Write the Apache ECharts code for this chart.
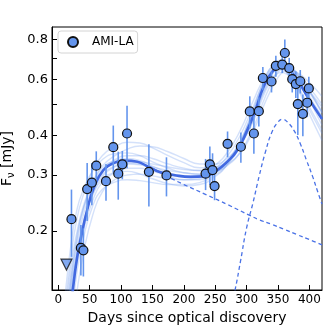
<!DOCTYPE html>
<html>
<head>
<meta charset="utf-8">
<script src="https://cdn.jsdelivr.net/npm/echarts@6/dist/echarts.min.js"></script>
<style>
  html, body { margin: 0; padding: 0; background: #fff; }
  #chart { width: 332px; height: 332px; }
</style>
</head>
<body>
<div id="chart"></div>
<script>
// AMI-LA detections: day, flux (mJy), 1-sigma error
const ptDay = [21, 36, 40, 46, 53.5, 60.5, 76, 87.6, 95.5, 102, 109.5, 144.3, 172.3, 234.6, 241.4, 245.7, 248.9, 269.6, 290.8, 305, 311.5, 319.4, 325.8, 339.6, 346.5, 356.7, 360.8, 367.8, 372.6, 378.3, 381.5, 385.4, 389.5, 396.5, 399]
const ptFlux = [0.218, 0.177, 0.174, 0.271, 0.284, 0.321, 0.287, 0.367, 0.303, 0.324, 0.405, 0.307, 0.299, 0.303, 0.324, 0.311, 0.277, 0.376, 0.368, 0.475, 0.405, 0.476, 0.605, 0.59, 0.661, 0.667, 0.725, 0.65, 0.6, 0.579, 0.501, 0.591, 0.467, 0.506, 0.561]
const ptErr = [0.052, 0.032, 0.03, 0.056, 0.043, 0.035, 0.038, 0.062, 0.052, 0.033, 0.09, 0.068, 0.042, 0.034, 0.045, 0.04, 0.027, 0.035, 0.04, 0.055, 0.055, 0.05, 0.05, 0.045, 0.05, 0.04, 0.075, 0.05, 0.055, 0.055, 0.1, 0.05, 0.07, 0.05, 0.05]

// upper limit
const ulDay = [13]
const ulFlux = [0.157]

// best model (total)
const mainDay = [20, 25, 30, 36, 46, 57, 72, 88, 107, 126, 144, 163, 184, 211, 232, 253, 269, 285, 301, 314, 327, 341, 354, 367, 381, 397, 420]
const mainFlux = [0.115, 0.14, 0.165, 0.19, 0.233, 0.275, 0.311, 0.327, 0.333, 0.33, 0.318, 0.306, 0.3, 0.296, 0.297, 0.311, 0.33, 0.359, 0.415, 0.48, 0.568, 0.633, 0.656, 0.641, 0.596, 0.528, 0.45]

// model components (dashed)
const comp1Day = [130, 150, 172, 200, 236, 270, 305, 320, 340, 360, 380, 400, 420]
const comp1Flux = [0.328, 0.315, 0.298, 0.28, 0.26, 0.242, 0.224, 0.217, 0.21, 0.2025, 0.195, 0.188, 0.181]
const comp2Day = [276, 282, 290, 300, 310, 320, 330, 340, 350, 357, 365, 375, 385, 395, 405, 412, 420]
const comp2Flux = [0.118, 0.132, 0.16, 0.205, 0.245, 0.298, 0.355, 0.408, 0.44, 0.449, 0.44, 0.415, 0.378, 0.335, 0.297, 0.27, 0.243]

// posterior sample curves
const sampDay = [10, 20, 30, 40, 55, 70, 90, 110, 130, 150, 175, 200, 225, 250, 270, 290, 310, 330, 345, 355, 365, 380, 400, 420]
const samp1 = [0.12, 0.18, 0.235, 0.27, 0.31, 0.335, 0.35, 0.352, 0.345, 0.33, 0.315, 0.305, 0.302, 0.312, 0.335, 0.38, 0.455, 0.56, 0.615, 0.63, 0.62, 0.585, 0.52, 0.46]
const samp2 = [0.05, 0.09, 0.13, 0.17, 0.225, 0.265, 0.29, 0.3, 0.302, 0.298, 0.292, 0.29, 0.292, 0.305, 0.33, 0.38, 0.47, 0.6, 0.665, 0.68, 0.665, 0.615, 0.53, 0.455]
const samp3 = [0.09, 0.14, 0.19, 0.235, 0.285, 0.32, 0.345, 0.362, 0.37, 0.368, 0.355, 0.338, 0.325, 0.325, 0.34, 0.375, 0.44, 0.55, 0.62, 0.645, 0.64, 0.61, 0.55, 0.49]
const samp4 = [0.08, 0.13, 0.175, 0.215, 0.26, 0.29, 0.305, 0.308, 0.302, 0.292, 0.282, 0.277, 0.28, 0.297, 0.325, 0.38, 0.48, 0.61, 0.675, 0.69, 0.67, 0.61, 0.515, 0.43]
const samp5 = [0.07, 0.12, 0.17, 0.21, 0.265, 0.3, 0.32, 0.327, 0.325, 0.318, 0.31, 0.305, 0.302, 0.307, 0.322, 0.355, 0.42, 0.53, 0.61, 0.645, 0.655, 0.63, 0.565, 0.5]
const samp6 = [0.1, 0.155, 0.2, 0.24, 0.285, 0.315, 0.333, 0.338, 0.333, 0.32, 0.305, 0.298, 0.3, 0.322, 0.355, 0.415, 0.51, 0.615, 0.655, 0.655, 0.63, 0.57, 0.48, 0.405]
const samp7 = [0.11, 0.165, 0.22, 0.26, 0.31, 0.345, 0.368, 0.38, 0.378, 0.365, 0.345, 0.328, 0.316, 0.318, 0.334, 0.37, 0.445, 0.565, 0.64, 0.665, 0.66, 0.62, 0.55, 0.475]
const samp8 = [0.06, 0.1, 0.15, 0.19, 0.24, 0.27, 0.285, 0.29, 0.288, 0.284, 0.28, 0.28, 0.284, 0.3, 0.325, 0.37, 0.455, 0.585, 0.655, 0.675, 0.665, 0.625, 0.545, 0.47]
const samp9 = [0.085, 0.135, 0.185, 0.225, 0.275, 0.31, 0.335, 0.345, 0.345, 0.338, 0.325, 0.315, 0.31, 0.315, 0.333, 0.372, 0.45, 0.575, 0.645, 0.67, 0.665, 0.625, 0.55, 0.47]
const samp10 = [0.075, 0.125, 0.172, 0.212, 0.262, 0.296, 0.318, 0.325, 0.323, 0.312, 0.298, 0.29, 0.29, 0.305, 0.332, 0.385, 0.475, 0.59, 0.64, 0.645, 0.625, 0.575, 0.49, 0.415]
const samp11 = [0.095, 0.145, 0.195, 0.235, 0.28, 0.31, 0.325, 0.33, 0.33, 0.325, 0.318, 0.312, 0.31, 0.312, 0.325, 0.352, 0.41, 0.51, 0.585, 0.625, 0.64, 0.63, 0.585, 0.53]
const samp12 = [0.065, 0.11, 0.16, 0.2, 0.25, 0.285, 0.305, 0.315, 0.315, 0.308, 0.3, 0.295, 0.296, 0.315, 0.345, 0.4, 0.49, 0.6, 0.645, 0.648, 0.625, 0.565, 0.465, 0.385]
const samples = [samp1, samp2, samp3, samp4, samp5, samp6, samp7, samp8, samp9, samp10, samp11, samp12]

// axes
const xTicks = [0, 50, 100, 150, 200, 250, 300, 350, 400]
const yTicks = [0.2, 0.3, 0.4, 0.5, 0.6, 0.7, 0.8]
const yLabels = [0.2, 0.3, 0.4, 0.6, 0.8]
const yMin = 0.1306
const yMax = 0.875

const lg = v => Math.log10(v)
const pairs = (xs, ys) => xs.map((x, i) => [x, lg(ys[i])])

const FONT = 'DejaVu Sans'
const chart = echarts.init(document.getElementById('chart'))

const sampleSeries = samples.map(s => ({
  type: 'line',
  data: pairs(sampDay, s),
  smooth: true,
  symbol: 'none',
  silent: true,
  z: 1,
  lineStyle: { color: 'rgba(100,149,237,0.28)', width: 1.4 }
}))

const option = {
  animation: false,
  grid: {
    left: 52, right: 10, top: 27, bottom: 42,
    outerBoundsMode: 'none', containLabel: false,
    show: true, borderColor: '#000', borderWidth: 1
  },
  legend: {
    left: 58,
    top: 31,
    data: ['AMI-LA'],
    padding: [5, 4, 5, 9],
    itemWidth: 10,
    itemHeight: 10,
    borderColor: '#d4d4d4',
    borderWidth: 1,
    borderRadius: 3,
    backgroundColor: 'rgba(255,255,255,0.85)',
    textStyle: { fontFamily: FONT, fontSize: 12, color: '#000', padding: [0, 0, 0, 9] }
  },
  xAxis: {
    type: 'value',
    min: -10,
    max: 420,
    name: 'Days since optical discovery',
    nameLocation: 'middle',
    nameGap: 16,
    nameTextStyle: { fontFamily: FONT, fontSize: 14, color: '#000' },
    axisLine: { onZero: false, lineStyle: { color: '#000', width: 1 } },
    axisTick: { inside: true, length: 5, customValues: xTicks, lineStyle: { color: '#000' } },
    axisLabel: { customValues: xTicks, fontFamily: FONT, fontSize: 12, color: '#000', margin: 4 },
    splitLine: { show: false }
  },
  yAxis: {
    type: 'value',
    min: lg(yMin),
    max: lg(yMax),
    name: '{a|F}{s|ν}{a| [mJy]}',
    nameLocation: 'middle',
    nameGap: 31,
    nameRotate: 90,
    nameTextStyle: {
      rich: {
        a: { fontFamily: FONT, fontSize: 14, color: '#000', lineHeight: 18, verticalAlign: 'middle' },
        s: { fontFamily: FONT, fontSize: 10, color: '#000', lineHeight: 18, verticalAlign: 'bottom' }
      }
    },
    axisLine: { onZero: false, lineStyle: { color: '#000', width: 1 } },
    axisTick: { inside: true, length: 5, customValues: yTicks.map(lg), lineStyle: { color: '#000' } },
    axisLabel: {
      customValues: yLabels.map(lg),
      formatter: v => Math.pow(10, v).toFixed(1),
      fontFamily: FONT, fontSize: 13, color: '#000', margin: 4
    },
    splitLine: { show: false }
  },
  series: [
    ...sampleSeries,
    {
      type: 'line',
      name: 'comp1',
      data: pairs(comp1Day, comp1Flux),
      smooth: 0.4,
      symbol: 'none',
      z: 3,
      lineStyle: { color: '#4a72e6', width: 1.3, type: [4, 3] }
    },
    {
      type: 'line',
      name: 'comp2',
      data: pairs(comp2Day, comp2Flux),
      smooth: true,
      symbol: 'none',
      z: 3,
      lineStyle: { color: '#4a72e6', width: 1.3, type: [4, 3] }
    },
    {
      type: 'line',
      name: 'model',
      data: pairs(mainDay, mainFlux),
      smooth: true,
      symbol: 'none',
      z: 4,
      lineStyle: { color: '#4169E1', width: 2.6 }
    },
    {
      type: 'custom',
      name: 'err',
      z: 5,
      data: ptDay.map((d, i) => [d, lg(ptFlux[i] - ptErr[i]), lg(ptFlux[i] + ptErr[i])]),
      encode: { x: 0, y: [1, 2] },
      renderItem: (params, api) => {
        const a = api.coord([api.value(0), api.value(1)])
        const b = api.coord([api.value(0), api.value(2)])
        return {
          type: 'line',
          shape: { x1: a[0], y1: a[1], x2: b[0], y2: b[1] },
          style: { stroke: '#6495ED', lineWidth: 1.6 }
        }
      }
    },
    {
      type: 'scatter',
      name: 'AMI-LA',
      data: pairs(ptDay, ptFlux),
      symbol: 'circle',
      symbolSize: 9,
      z: 6,
      itemStyle: { color: '#6495ED', borderColor: '#111', borderWidth: 1.2, opacity: 1 }
    },
    {
      type: 'scatter',
      name: 'limit',
      data: pairs(ulDay, ulFlux),
      symbol: 'triangle',
      symbolRotate: 180,
      symbolSize: 11,
      z: 6,
      itemStyle: { color: '#6495ED', borderColor: '#111', borderWidth: 1.2 }
    }
  ]
}
chart.setOption(option)
</script>
</body>
</html>
